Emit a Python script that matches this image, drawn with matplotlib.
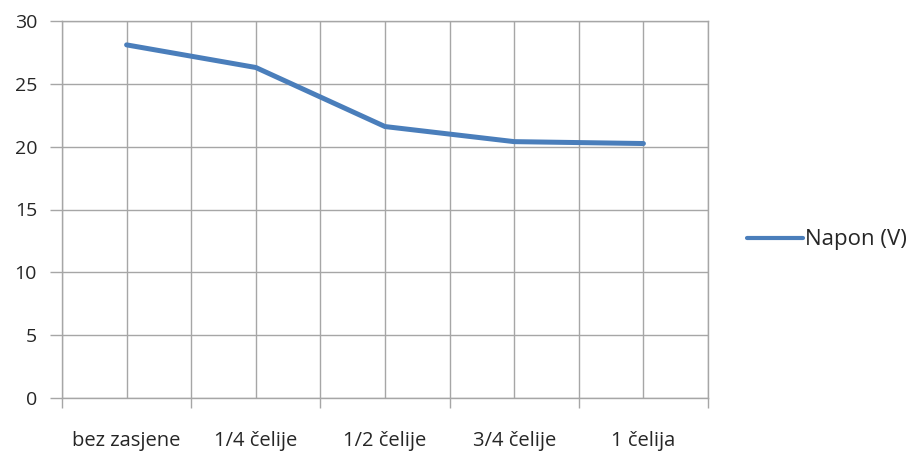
import matplotlib
matplotlib.use("Agg")
import matplotlib.pyplot as plt
import numpy as np

# data
categories = ["bez zasjene", "1/4 čelije", "1/2 čelije", "3/4 čelije", "1 čelija"]
napon = [28.1, 26.3, 21.6, 20.4, 20.25]
series_name = "Napon (V)"

plt.rcParams['font.family'] = ['Open Sans', 'DejaVu Sans']

W, H = 917, 454
fig = plt.figure(figsize=(W / 100, H / 100), dpi=100)
ax = fig.add_axes([62 / W, (H - 398) / H, (708 - 62) / W, (398 - 21) / H])

grid_c = "#a6a6a6"
text_c = "#262626"
line_c = "#4a7ebb"

x = np.arange(len(categories))
ax.plot(x, napon, color=line_c, lw=3.6, solid_capstyle='round',
        solid_joinstyle='round', label=series_name, zorder=3)

ax.set_xlim(-0.5, len(categories) - 0.5)
ax.set_ylim(0, 30)

# boundaries as major ticks, category labels on minor ticks
ax.set_xticks(np.arange(-0.5, len(categories), 1.0))
ax.set_xticklabels([])
ax.set_xticks(x, minor=True)
ax.set_xticklabels(categories, minor=True)
ax.tick_params(axis='x', which='major', length=7, width=1, color=grid_c,
               direction='out')
ax.tick_params(axis='x', which='minor', length=0, pad=24, labelsize=14.5,
               labelcolor=text_c)

ax.set_yticks(np.arange(0, 31, 5))
ax.tick_params(axis='y', length=9, width=1, color=grid_c, pad=9,
               labelsize=14, labelcolor=text_c)

ax.grid(True, which='both', axis='x', color=grid_c, lw=1)
ax.grid(True, which='major', axis='y', color=grid_c, lw=1)
ax.set_axisbelow(True)

for s in ax.spines.values():
    s.set_color(grid_c)
    s.set_linewidth(1)

leg = ax.legend(loc='center left', bbox_to_anchor=(747 / W, (H - 240) / H),
                bbox_transform=fig.transFigure, frameon=False, fontsize=16,
                handlelength=2.5, handletextpad=0.1, borderpad=0,
                borderaxespad=0, labelcolor=text_c)
leg.get_lines()[0].set_linewidth(3)

fig.savefig("out.png", dpi=100)
